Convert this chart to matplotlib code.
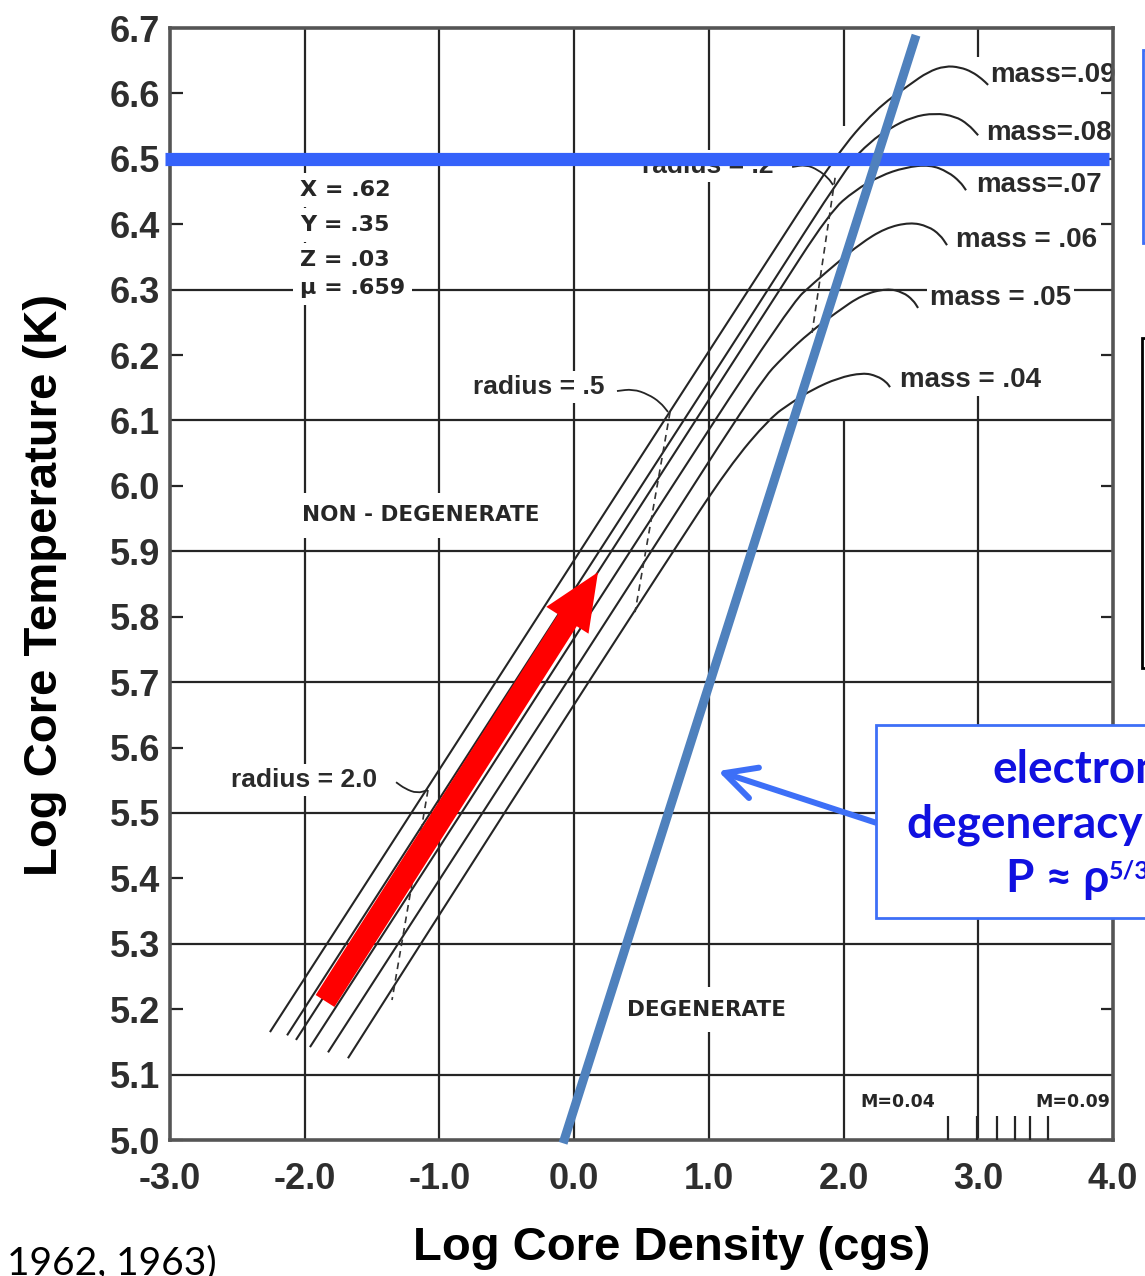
import matplotlib
matplotlib.use("Agg")
import matplotlib.pyplot as plt
from matplotlib.patches import Rectangle, FancyArrowPatch, PathPatch
from matplotlib.path import Path
from matplotlib.text import Annotation

W, H = 1145, 1276

# ---- data (log rho, log T) ----
x_ticks = [-3, -2, -1, 0, 1, 2, 3, 4]
x_tick_labels = ["-3.0", "-2.0", "-1.0", "0.0", "1.0", "2.0", "3.0", "4.0"]
y_even = [5.0, 5.2, 5.4, 5.6, 5.8, 6.0, 6.2, 6.4, 6.6]
y_odd = [5.1, 5.3, 5.5, 5.7, 5.9, 6.1, 6.3, 6.5, 6.7]
grid_x = [-2, -1, 0, 1, 2, 3]
grid_y = [5.1, 5.3, 5.5, 5.7, 5.9, 6.1, 6.3, 6.5]

# evolutionary tracks, one per mass
rho_09 = [-2.258, -1.070, 0.192, 1.380, 1.944, 2.234, 2.494, 2.627, 2.754, 2.865, 2.954, 3.028, 3.073]
t_09 = [5.165, 5.544, 5.948, 6.327, 6.506, 6.575, 6.614, 6.633, 6.642, 6.640, 6.633, 6.622, 6.613]
rho_08 = [-2.131, -0.996, 0.192, 1.380, 2.033, 2.197, 2.345, 2.509, 2.679, 2.828, 2.924, 2.999]
t_08 = [5.160, 5.523, 5.902, 6.281, 6.491, 6.526, 6.547, 6.564, 6.570, 6.565, 6.553, 6.536]
rho_07 = [-2.065, -0.921, 0.267, 1.454, 1.900, 2.085, 2.271, 2.457, 2.642, 2.776, 2.865, 2.909]
t_07 = [5.153, 5.518, 5.897, 6.277, 6.419, 6.452, 6.474, 6.487, 6.491, 6.480, 6.465, 6.452]
rho_06 = [-1.961, -0.773, 0.415, 1.603, 1.788, 1.959, 2.122, 2.308, 2.494, 2.627, 2.716, 2.768]
t_06 = [5.142, 5.520, 5.900, 6.277, 6.312, 6.342, 6.370, 6.394, 6.403, 6.397, 6.384, 6.368]
rho_05 = [-1.827, -0.624, 0.563, 1.380, 1.566, 1.751, 1.952, 2.137, 2.323, 2.442, 2.516, 2.553]
t_05 = [5.134, 5.518, 5.897, 6.159, 6.200, 6.235, 6.266, 6.292, 6.302, 6.296, 6.284, 6.272]
rho_04 = [-1.679, -0.476, 0.712, 1.150, 1.454, 1.618, 1.766, 1.959, 2.145, 2.249, 2.316, 2.345]
t_04 = [5.125, 5.514, 5.893, 6.030, 6.104, 6.128, 6.147, 6.165, 6.173, 6.168, 6.159, 6.151]
tracks = [(rho_09, t_09), (rho_08, t_08), (rho_07, t_07),
          (rho_06, t_06), (rho_05, t_05), (rho_04, t_04)]
mass_labels = ["mass=.09", "mass=.08", "mass=.07", "mass = .06", "mass = .05", "mass = .04"]
mass_label_x = [3.088, 3.058, 2.984, 2.835, 2.642, 2.419]
mass_label_y = [6.628, 6.539, 6.460, 6.376, 6.287, 6.162]

# constant radius lines (dashed) and their labels
radius_labels = ["radius = .2", "radius = .5", "radius = 2.0"]
radius_label_x = [0.504, -0.750, -2.547]
radius_label_y = [6.489, 6.151, 5.550]
radius_line_x = [[1.937, 1.766], [0.712, 0.452], [-1.085, -1.352]]
radius_line_y = [[6.471, 6.234], [6.113, 5.807], [5.535, 5.214]]
hook_x = [[1.618, 1.722, 1.811, 1.885, 1.922],
          [0.318, 0.437, 0.549, 0.638, 0.697],
          [-1.322, -1.255, -1.166, -1.085]]
hook_y = [[6.4875, 6.491, 6.483, 6.471, 6.460],
          [6.145, 6.148, 6.140, 6.128, 6.113],
          [5.547, 5.537, 5.530, 5.535]]

# composition block
comp_labels = ["X = .62", "Y = .35", "Z = .03", "\u03bc = .659"]
comp_y = [6.452, 6.399, 6.345, 6.303]
comp_x = -2.035

# limiting-mass marks at the bottom
m_tick_x = [2.776, 2.991, 3.140, 3.270, 3.385, 3.518]

# overlays
blue_line_x = [-3.04, 3.97]
blue_line_y = [6.5, 6.5]
degen_x = [-0.082, 2.538]
degen_y = [4.995, 6.689]
red_tail = (-1.849, 5.2125)
red_tip = (0.177, 5.868)
pointer_start = (2.241, 5.485)
pointer_tip = (1.068, 5.564)

# grid segments missing in the scan (hidden behind labels)
grid_gaps = {2: (6.10, 6.55), 3: (6.16, 6.655)}

scan = "#252525"
plt.rcParams['font.family'] = ['Liberation Sans', 'DejaVu Sans']


def smooth(xs, ys):
    # quadratic bezier through the midpoints, so the drawn curve has no kinks
    pts = list(zip(xs, ys))
    mids = [((a[0] + b[0]) / 2, (a[1] + b[1]) / 2) for a, b in zip(pts[:-1], pts[1:])]
    verts = [pts[0], mids[0]]
    codes = [Path.MOVETO, Path.LINETO]
    for p, m in zip(pts[1:-1], mids[1:]):
        verts += [p, m]
        codes += [Path.CURVE3, Path.CURVE3]
    verts.append(pts[-1])
    codes.append(Path.LINETO)
    return Path(verts, codes)


fig = plt.figure(figsize=(W / 100, H / 100), dpi=100)
ax = fig.add_axes([170 / W, 1 - 1140 / H, (1113 - 170) / W, (1140 - 28) / H])
ax.set_xlim(-3, 4)
ax.set_ylim(5.0, 6.7)

for v in grid_y:
    ax.axhline(v, color=scan, lw=1.6, zorder=1)
for v in grid_x:
    if v in grid_gaps:
        lo, hi = grid_gaps[v]
        ax.vlines(v, 5.0, lo, color=scan, lw=1.6, zorder=1)
        ax.vlines(v, hi, 6.7, color=scan, lw=1.6, zorder=1)
    else:
        ax.axvline(v, color=scan, lw=1.6, zorder=1)

for s in ax.spines.values():
    s.set_color("#555555")
    s.set_linewidth(2.6)

tick_font = dict(fontsize=26, fontweight="bold", color="#2e2e2e")
ax.set_xticks(x_ticks, x_tick_labels, **tick_font)
ax.tick_params(axis="x", length=0, pad=16)
ax.set_yticks(y_even, [f"{v:.1f}" for v in y_even], **tick_font)
ax.set_yticks(y_odd, [f"{v:.1f}" for v in y_odd], minor=True, **tick_font)
ax.tick_params(axis="y", which="major", direction="in", length=9, width=1.6,
               color=scan, left=True, right=True, pad=7)
ax.tick_params(axis="y", which="minor", length=0, pad=7)

# tracks
for (xs, ys) in tracks:
    ax.add_patch(PathPatch(smooth(xs, ys), fc="none", ec=scan, lw=1.5, zorder=3))
lab_font = dict(fontsize=20, fontweight="bold", color="#2a2a2a")
for lab, lx, ly in zip(mass_labels, mass_label_x, mass_label_y):
    ax.text(lx, ly, lab, ha="left", va="center", zorder=2,
            bbox=dict(fc="white", ec="none", pad=2), **lab_font)

for lab, lx, ly in zip(radius_labels, radius_label_x, radius_label_y):
    ax.text(lx, ly, lab, ha="left", va="center", zorder=2,
            bbox=dict(fc="white", ec="none", pad=3), fontsize=19,
            fontweight="bold", color="#2a2a2a")
for xs, ys in zip(radius_line_x, radius_line_y):
    ax.plot(xs, ys, color="#333333", lw=1.2, ls=(0, (4, 3)), zorder=3)
for xs, ys in zip(hook_x, hook_y):
    ax.add_patch(PathPatch(smooth(xs, ys), fc="none", ec=scan, lw=1.3, zorder=3))

small_font = dict(family="DejaVu Sans", fontweight="bold", color="#262626")
for lab, cy in zip(comp_labels, comp_y):
    ax.text(comp_x, cy, lab, ha="left", va="center", fontsize=16, zorder=2,
            bbox=dict(fc="white", ec="none", pad=5), **small_font)
ax.text(-2.020, 5.955, "NON - DEGENERATE", ha="left", va="center", fontsize=15.5,
        zorder=2, bbox=dict(fc="white", ec="none", pad=9), **small_font)
ax.text(0.393, 5.199, "DEGENERATE", ha="left", va="center", fontsize=15.5,
        zorder=2, bbox=dict(fc="white", ec="none", pad=9), **small_font)

ax.vlines(m_tick_x, 5.0, 5.037, color=scan, lw=1.6, zorder=3)
ax.text(2.122, 5.058, "M=0.04", ha="left", va="center", fontsize=12.5, **small_font)
ax.text(3.422, 5.058, "M=0.09", ha="left", va="center", fontsize=12.5, clip_on=True,
        **small_font)

# overlays
ax.plot(blue_line_x, blue_line_y, color="#3562fa", lw=9.5, solid_capstyle="butt",
        clip_on=False, zorder=5)
ax.plot(degen_x, degen_y, color="#4f81bd", lw=6.5, solid_capstyle="butt",
        clip_on=False, zorder=6)
ax.add_patch(FancyArrowPatch(red_tail, red_tip,
                             arrowstyle="simple,head_length=0.41,head_width=0.36,tail_width=0.16",
                             mutation_scale=100, color="#ff0000", lw=0,
                             shrinkA=0, shrinkB=0, zorder=7))
ax.add_patch(FancyArrowPatch(pointer_start, pointer_tip,
                             arrowstyle="->,head_length=0.45,head_width=0.23",
                             mutation_scale=50, color="#3d6ff7", lw=4.3,
                             shrinkA=0, shrinkB=0, clip_on=False, zorder=8))


def fx(px):
    return px / W


def fy(py):
    return 1 - py / H


# boxes at the right edge
fig.add_artist(Rectangle((fx(1143), fy(243)), 0.2, (243 - 50) / H, transform=fig.transFigure,
                         fc="white", ec="#3d6ff7", lw=2, zorder=9))
fig.add_artist(Rectangle((fx(1142), fy(668)), 0.2, (668 - 338) / H, transform=fig.transFigure,
                         fc="white", ec="black", lw=2, zorder=9))
fig.add_artist(Rectangle((fx(876), fy(918)), 0.3, (918 - 725) / H, transform=fig.transFigure,
                         fc="white", ec="#3d6ff7", lw=2, zorder=9))

blue_fam = ["Lato", "Open Sans", "DejaVu Sans"]
blue_font = dict(fontsize=33, fontweight="bold", color="#1010e0", family=blue_fam, zorder=10)
fig.text(fx(992), fy(783), "electron", ha="left", va="baseline", **blue_font)
fig.text(fx(906), fy(837), "degeneracy", ha="left", va="baseline", **blue_font)
p_txt = fig.text(fx(1006), fy(892), "P \u2248 \u03c1", ha="left", va="baseline", **blue_font)
sup = Annotation("5/3", xy=(1.0, 1.0), xycoords=p_txt, xytext=(0, -1),
                 textcoords="offset points", ha="left", va="top",
                 fontsize=18, fontweight="bold", color="#1010e0", family=blue_fam,
                 annotation_clip=False)
sup.set_zorder(11)
fig.add_artist(sup)

# axis titles
fig.text(fx(45), fy(585), "Log Core Temperature (K)", rotation=90, ha="center",
         va="center", fontsize=34, fontweight="bold", color="black")
fig.text(fx(672), fy(1248), "Log Core Density (cgs)", ha="center", va="center",
         fontsize=34, fontweight="bold", color="black")
fig.text(fx(217), fy(1245), "1962, 1963)", ha="right", va="top", fontsize=28,
         family=["Lato", "DejaVu Sans"], color="black")

fig.savefig("out.png", dpi=100)
